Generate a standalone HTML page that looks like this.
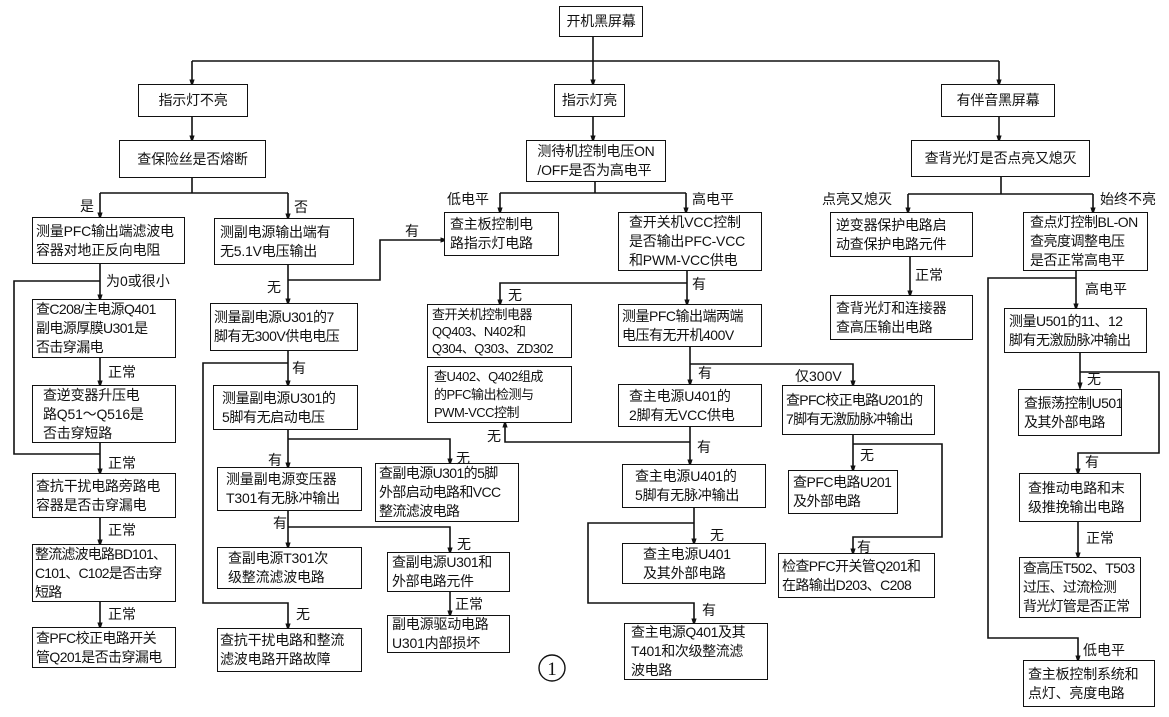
<!DOCTYPE html>
<html><head><meta charset="utf-8"><style>
html,body{margin:0;padding:0;background:#fff;}
#c{position:relative;width:1169px;height:717px;overflow:hidden;background:#fff;font-family:"Liberation Sans","Noto Sans CJK SC",sans-serif;color:#111;}
.b{position:absolute;border:1.6px solid #111;box-sizing:border-box;background:#fff;display:flex;align-items:center;padding-left:5px;font-size:14px;line-height:19px;white-space:nowrap;letter-spacing:-0.2px;overflow:hidden;}
.cc{justify-content:center;padding-left:0;}
.l{position:absolute;font-size:14px;line-height:16px;white-space:nowrap;transform:translateY(-50%);}
svg{position:absolute;left:0;top:0;}
</style></head><body><div id="c">
<svg width="1169" height="717">
<defs><marker id="a" markerWidth="8" markerHeight="12" refX="7" refY="4" orient="auto" markerUnits="userSpaceOnUse" viewBox="0 0 12 8"><path d="M0,0 L12,4 L0,8 z" fill="#111"/></marker></defs>
<g fill="none" stroke="#111" stroke-width="1.6">
<path d="M593,36V84" marker-end="url(#a)"/>
<path d="M192,61H999"/>
<path d="M192,61V84" marker-end="url(#a)"/>
<path d="M999,61V84" marker-end="url(#a)"/>
<path d="M192,116V140" marker-end="url(#a)"/>
<path d="M593,116V140" marker-end="url(#a)"/>
<path d="M999,117V140" marker-end="url(#a)"/>
<path d="M192,177V193M100,193H288"/>
<path d="M100,193V217" marker-end="url(#a)"/>
<path d="M288,193V218" marker-end="url(#a)"/>
<path d="M595,182V193M500,193H686"/>
<path d="M500,193V212" marker-end="url(#a)"/>
<path d="M686,193V212" marker-end="url(#a)"/>
<path d="M1001,176V194M908,194H1093"/>
<path d="M908,194V212" marker-end="url(#a)"/>
<path d="M1093,194V212" marker-end="url(#a)"/>
<path d="M100,264V299" marker-end="url(#a)"/>
<path d="M100,281H14V454H100"/>
<path d="M100,443V473" marker-end="url(#a)"/>
<path d="M100,358V385" marker-end="url(#a)"/>
<path d="M100,518V544" marker-end="url(#a)"/>
<path d="M100,602V627" marker-end="url(#a)"/>
<path d="M288,265V303" marker-end="url(#a)"/>
<path d="M288,280H380V240H445" marker-end="url(#a)"/>
<path d="M288,351V385" marker-end="url(#a)"/>
<path d="M288,363H203V603H288V628" marker-end="url(#a)"/>
<path d="M288,430V467" marker-end="url(#a)"/>
<path d="M288,439H450V463" marker-end="url(#a)"/>
<path d="M288,511V547" marker-end="url(#a)"/>
<path d="M288,527H450V552" marker-end="url(#a)"/>
<path d="M450,592V615" marker-end="url(#a)"/>
<path d="M687,271V304" marker-end="url(#a)"/>
<path d="M687,283H500V304" marker-end="url(#a)"/>
<path d="M690,347V384" marker-end="url(#a)"/>
<path d="M690,364H853V385" marker-end="url(#a)"/>
<path d="M690,427V464" marker-end="url(#a)"/>
<path d="M690,442H505V423" marker-end="url(#a)"/>
<path d="M694,508V543" marker-end="url(#a)"/>
<path d="M694,523H588V603H694V623" marker-end="url(#a)"/>
<path d="M853,435V470" marker-end="url(#a)"/>
<path d="M853,444H942V537H853V553" marker-end="url(#a)"/>
<path d="M910,257V295" marker-end="url(#a)"/>
<path d="M1076,271V308" marker-end="url(#a)"/>
<path d="M1076,278H988V638H1078V660" marker-end="url(#a)"/>
<path d="M1080,353V387" marker-end="url(#a)"/>
<path d="M1080,372H1159V453H1078V473" marker-end="url(#a)"/>
<path d="M1078,522V557" marker-end="url(#a)"/>
</g>
<circle cx="552" cy="668" r="13" fill="none" stroke="#111" stroke-width="1.4"/>
<text x="552" y="675" font-size="19" text-anchor="middle" font-family="Liberation Serif, serif" fill="#111">1</text>
</svg>

<div class="b cc" style="left:559px;top:6px;width:84px;height:31px;">开机黑屏幕</div>
<div class="b cc" style="left:138px;top:84px;width:110px;height:33px;">指示灯不亮</div>
<div class="b cc" style="left:554px;top:84px;width:71px;height:33px;">指示灯亮</div>
<div class="b cc" style="left:941px;top:84px;width:114px;height:33px;">有伴音黑屏幕</div>
<div class="b cc" style="left:119px;top:140px;width:147px;height:38px;">查保险丝是否熔断</div>
<div class="b cc" style="left:526px;top:140px;width:140px;height:42px;">测待机控制电压ON<br>/OFF是否为高电平</div>
<div class="b cc" style="left:911px;top:140px;width:179px;height:37px;">查背光灯是否点亮又熄灭</div>

<div class="b" style="left:32px;top:217px;width:153px;height:47px;padding-left:3px;">测量PFC输出端滤波电<br>容器对地正反向电阻</div>
<div class="b" style="left:214px;top:218px;width:140px;height:47px;">测副电源输出端有<br>无5.1V电压输出</div>
<div class="b" style="left:444px;top:212px;width:115px;height:44px;">查主板控制电<br>路指示灯电路</div>
<div class="b" style="left:618px;top:212px;width:144px;height:59px;padding-left:10px;">查开关机VCC控制<br>是否输出PFC-VCC<br>和PWM-VCC供电</div>
<div class="b" style="left:830px;top:212px;width:143px;height:45px;">逆变器保护电路启<br>动查保护电路元件</div>
<div class="b" style="left:1023px;top:212px;width:125px;height:59px;padding-left:6px;letter-spacing:-0.5px;">查点灯控制BL-ON<br>查亮度调整电压<br>是否正常高电平</div>

<div class="b" style="left:32px;top:299px;width:144px;height:59px;padding-left:3px;letter-spacing:-0.6px;">查C208/主电源Q401<br>副电源厚膜U301是<br>否击穿漏电</div>
<div class="b" style="left:210px;top:303px;width:148px;height:48px;padding-left:3px;letter-spacing:-0.5px;">测量副电源U301的7<br>脚有无300V供电电压</div>
<div class="b" style="left:427px;top:304px;width:145px;height:54px;font-size:13px;line-height:17px;padding-left:4px;letter-spacing:-0.5px;">查开关机控制电器<br>QQ403、N402和<br>Q304、Q303、ZD302</div>
<div class="b" style="left:618px;top:304px;width:144px;height:43px;padding-left:3px;letter-spacing:-0.5px;">测量PFC输出端两端<br>电压有无开机400V</div>
<div class="b" style="left:830px;top:295px;width:143px;height:45px;">查背光灯和连接器<br>查高压输出电路</div>
<div class="b" style="left:1004px;top:308px;width:143px;height:45px;padding-left:4px;letter-spacing:-0.5px;">测量U501的11、12<br>脚有无激励脉冲输出</div>

<div class="b" style="left:32px;top:385px;width:144px;height:58px;padding-left:10px;">查逆变器升压电<br>路Q51～Q516是<br>否击穿短路</div>
<div class="b" style="left:213px;top:385px;width:145px;height:45px;padding-left:8px;letter-spacing:-0.4px;">测量副电源U301的<br>5脚有无启动电压</div>
<div class="b" style="left:427px;top:366px;width:145px;height:57px;font-size:13px;line-height:18px;padding-left:6px;letter-spacing:-0.5px;">查U402、Q402组成<br>的PFC输出检测与<br>PWM-VCC控制</div>
<div class="b" style="left:618px;top:384px;width:144px;height:43px;padding-left:10px;">查主电源U401的<br>2脚有无VCC供电</div>
<div class="b" style="left:782px;top:385px;width:153px;height:50px;padding-left:3px;letter-spacing:-0.7px;">查PFC校正电路U201的<br>7脚有无激励脉冲输出</div>
<div class="b" style="left:1018px;top:389px;width:104px;height:47px;padding-left:5px;letter-spacing:-0.5px;">查振荡控制U501<br>及其外部电路</div>

<div class="b" style="left:32px;top:473px;width:144px;height:45px;padding-left:3px;">查抗干扰电路旁路电<br>容器是否击穿漏电</div>
<div class="b" style="left:217px;top:467px;width:145px;height:44px;padding-left:8px;">测量副电源变压器<br>T301有无脉冲输出</div>
<div class="b" style="left:375px;top:463px;width:144px;height:59px;padding-left:3px;letter-spacing:-0.6px;">查副电源U301的5脚<br>外部启动电路和VCC<br>整流滤波电路</div>
<div class="b" style="left:622px;top:464px;width:144px;height:44px;padding-left:12px;">查主电源U401的<br>5脚有无脉冲输出</div>
<div class="b" style="left:788px;top:470px;width:110px;height:44px;padding-left:4px;letter-spacing:-0.5px;">查PFC电路U201<br>及外部电路</div>
<div class="b" style="left:1019px;top:473px;width:122px;height:49px;padding-left:8px;">查推动电路和末<br>级推挽输出电路</div>

<div class="b" style="left:32px;top:544px;width:144px;height:58px;padding-left:2px;letter-spacing:-0.8px;">整流滤波电路BD101、<br>C101、C102是否击穿<br>短路</div>
<div class="b" style="left:217px;top:547px;width:145px;height:42px;padding-left:10px;">查副电源T301次<br>级整流滤波电路</div>
<div class="b" style="left:387px;top:552px;width:123px;height:40px;padding-left:4px;letter-spacing:-0.4px;">查副电源U301和<br>外部电路元件</div>
<div class="b" style="left:622px;top:543px;width:144px;height:41px;padding-left:20px;">查主电源U401<br>及其外部电路</div>
<div class="b" style="left:778px;top:553px;width:157px;height:45px;padding-left:3px;letter-spacing:-0.6px;">检查PFC开关管Q201和<br>在路输出D203、C208</div>
<div class="b" style="left:1019px;top:557px;width:122px;height:61px;padding-left:3px;letter-spacing:-0.7px;">查高压T502、T503<br>过压、过流检测<br>背光灯管是否正常</div>

<div class="b" style="left:32px;top:627px;width:144px;height:41px;padding-left:3px;letter-spacing:-0.6px;">查PFC校正电路开关<br>管Q201是否击穿漏电</div>
<div class="b" style="left:387px;top:615px;width:123px;height:38px;padding-left:4px;">副电源驱动电路<br>U301内部损坏</div>
<div class="b" style="left:217px;top:628px;width:145px;height:44px;padding-left:2px;">查抗干扰电路和整流<br>滤波电路开路故障</div>
<div class="b" style="left:624px;top:623px;width:144px;height:57px;padding-left:6px;letter-spacing:-0.4px;">查主电源Q401及其<br>T401和次级整流滤<br>波电路</div>
<div class="b" style="left:1023px;top:660px;width:132px;height:47px;padding-left:4px;">查主板控制系统和<br>点灯、亮度电路</div>

<div class="l" style="left:80px;top:206px;">是</div>
<div class="l" style="left:294px;top:207px;">否</div>
<div class="l" style="left:106px;top:281px;">为0或很小</div>
<div class="l" style="left:108px;top:372px;">正常</div>
<div class="l" style="left:108px;top:463px;">正常</div>
<div class="l" style="left:108px;top:530px;">正常</div>
<div class="l" style="left:108px;top:614px;">正常</div>
<div class="l" style="left:267px;top:287px;">无</div>
<div class="l" style="left:405px;top:231px;">有</div>
<div class="l" style="left:292px;top:368px;">有</div>
<div class="l" style="left:268px;top:460px;">有</div>
<div class="l" style="left:456px;top:458px;">无</div>
<div class="l" style="left:273px;top:523px;">有</div>
<div class="l" style="left:457px;top:544px;">无</div>
<div class="l" style="left:455px;top:604px;">正常</div>
<div class="l" style="left:296px;top:614px;">无</div>
<div class="l" style="left:447px;top:199px;">低电平</div>
<div class="l" style="left:692px;top:199px;">高电平</div>
<div class="l" style="left:692px;top:284px;">有</div>
<div class="l" style="left:508px;top:295px;">无</div>
<div class="l" style="left:698px;top:373px;">有</div>
<div class="l" style="left:487px;top:436px;">无</div>
<div class="l" style="left:697px;top:447px;">有</div>
<div class="l" style="left:710px;top:535px;">无</div>
<div class="l" style="left:702px;top:610px;">有</div>
<div class="l" style="left:795px;top:376px;">仅300V</div>
<div class="l" style="left:860px;top:455px;">无</div>
<div class="l" style="left:857px;top:547px;">有</div>
<div class="l" style="left:822px;top:199px;">点亮又熄灭</div>
<div class="l" style="left:1100px;top:199px;">始终不亮</div>
<div class="l" style="left:915px;top:275px;">正常</div>
<div class="l" style="left:1085px;top:289px;">高电平</div>
<div class="l" style="left:1087px;top:379px;">无</div>
<div class="l" style="left:1085px;top:462px;">有</div>
<div class="l" style="left:1086px;top:538px;">正常</div>
<div class="l" style="left:1083px;top:650px;">低电平</div>
</div></body></html>
